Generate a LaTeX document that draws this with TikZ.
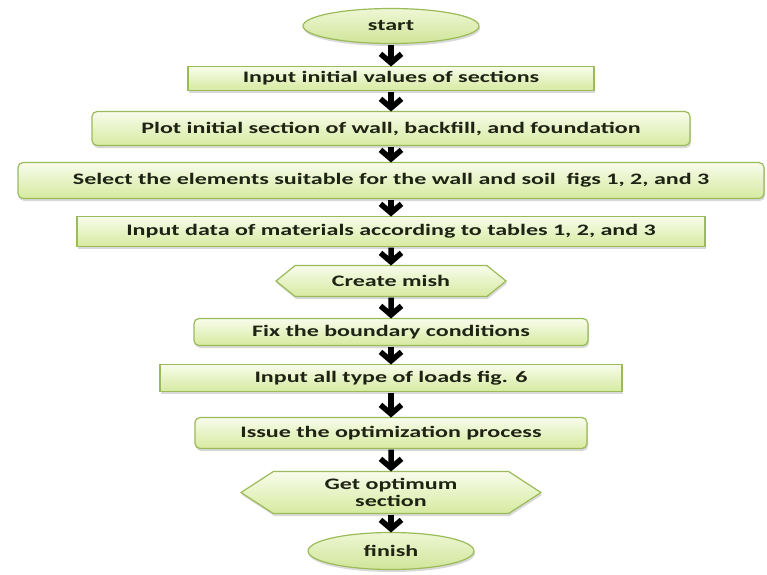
\documentclass[tikz,border=0pt]{standalone}
\usepackage{fontspec}
\setmainfont{Carlito}[FakeStretch=1.5]
\usetikzlibrary{arrows.meta, positioning, shapes.geometric, shapes.symbols, shadows}
\definecolor{boxline}{HTML}{9BBB59}
\definecolor{boxtop}{HTML}{F8FCEB}
\definecolor{boxbottom}{HTML}{D6EAA0}
\definecolor{txt}{HTML}{1E2314}

\begin{document}
\begin{tikzpicture}[
x=1pt, y=1pt,
node distance=20pt,
every node/.style={font=\bfseries\fontsize{16}{17}\selectfont, text=txt, align=center},
base/.style={draw=boxline, line width=1.2pt, outer sep=0pt, top color=boxtop, bottom color=boxbottom, drop shadow={opacity=0.3, shadow xshift=1pt, shadow yshift=-2.5pt}},
box/.style={base, rectangle, rounded corners=5pt},
plainbox/.style={base, rectangle},
term/.style={base, ellipse, inner sep=0pt, top color=boxtop!70!boxbottom, bottom color=boxbottom!90!boxline},
hexbox/.style={base, signal, signal to=east and west, inner sep=0pt},
line/.style={-{Straight Barb[length=9pt, width=21pt]}, line width=5.5pt, shorten <=1pt}
]
\useasboundingbox (0,0) rectangle (767,-574);

\node[term, minimum width=176pt, minimum height=35pt] (start) at (391,-26) {start};
\node[plainbox, minimum width=406pt, minimum height=24pt, below=23pt of start] (init) {Input initial values of sections};
\node[box, minimum width=598pt, minimum height=34pt, below=21pt of init] (plot) {Plot initial section of wall, backfill, and foundation};
\node[box, minimum width=746pt, minimum height=36pt, below=17pt of plot] (select) {Select the elements suitable for the wall and soil\ \ figs 1, 2, and 3};
\node[plainbox, minimum width=628pt, minimum height=30pt, below=18pt of select] (data) {Input data of materials according to tables 1, 2, and 3};
\node[hexbox, minimum width=230pt, minimum height=31pt, signal pointer angle=78, below=19pt of data] (mesh) {Create mish};
\node[box, minimum width=394pt, minimum height=27pt, below=22pt of mesh] (bound) {Fix the boundary conditions};
\node[plainbox, minimum width=462pt, minimum height=27pt, below=19pt of bound] (loads) {Input all type of loads fig. 6};
\node[box, minimum width=392pt, minimum height=31pt, below=26pt of loads] (optim) {Issue the optimization process};
\node[hexbox, minimum width=300pt, minimum height=42pt, signal pointer angle=66, below=23pt of optim] (result) {Get optimum\\section};
\node[term, minimum width=166pt, minimum height=37pt, below=19pt of result] (finish) {finish};

\draw[line] (start) -- (init);
\draw[line] (init) -- (plot);
\draw[line] (plot) -- (select);
\draw[line] (select) -- (data);
\draw[line] (data) -- (mesh);
\draw[line] (mesh) -- (bound);
\draw[line] (bound) -- (loads);
\draw[line] (loads) -- (optim);
\draw[line] (optim) -- (result);
\draw[line] (result) -- (finish);
\end{tikzpicture}
\end{document}
